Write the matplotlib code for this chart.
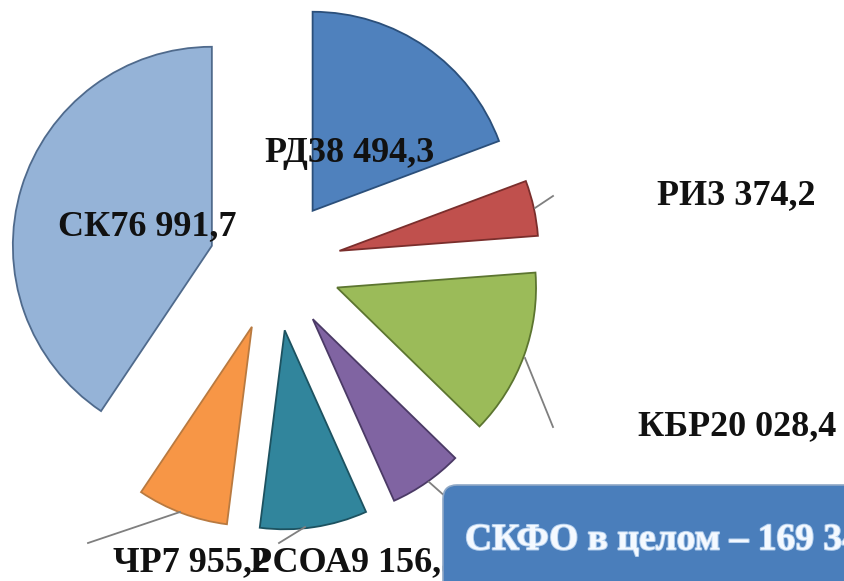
import matplotlib
matplotlib.use("Agg")
import matplotlib.pyplot as plt
from matplotlib.patches import FancyBboxPatch
import matplotlib.patheffects as pe

# ---- data ----
regions = ["РД", "РИ", "КБР", "КЧР", "РСОА", "ЧР", "СК"]
label_values = [38494.3, 3374.2, 20028.4, 13342.0, 9156.5, 7955.2, 76991.7]
# slice shares as drawn in the picture (percent of the circle)
shares = [19.3, 4.5, 13.5, 6.0, 8.7, 7.4, 40.6]
total_text = "СКФО в целом – 169 342,0"
colors = ["#4F81BD", "#C0504D", "#9BBB59", "#8064A2", "#31859C", "#F79646", "#95B3D7"]
edges = ["#2B4F7A", "#7A2E2C", "#5C7530", "#4B3A66", "#1D5260", "#B97A40", "#4F6A8C"]


def fmt(v):
    s = f"{v:,.1f}"
    return s.replace(",", " ").replace(".", ",")


W, H = 844, 581
fig = plt.figure(figsize=(W / 100, H / 100), dpi=100)
ax = fig.add_axes([0, 0, 1, 1])

R = 199
CX, CY = 275, H - 265
EXPL = 66

wedges, _ = ax.pie(shares, colors=colors, startangle=90, counterclock=False,
                   radius=R, center=(CX, CY), explode=[EXPL] * len(shares),
                   wedgeprops=dict(linewidth=1.3))
for w, ec in zip(wedges, edges):
    w.set_edgecolor(ec)

ax.set_xlim(0, W)
ax.set_ylim(0, H)
ax.set_aspect("equal")
ax.axis("off")

serif = ["Liberation Serif", "DejaVu Serif"]
fs = 26
lbl = {r: f"{r}{fmt(v)}" for r, v in zip(regions, label_values)}

# leader lines (pixel coords, y down)
lines = [((535, 208), (553, 196)),
         ((525, 358), (553, 427)),
         ((429, 482), (447, 498)),
         ((180, 512), (88, 543)),
         ((305, 527), (279, 543))]
for (x1, y1), (x2, y2) in lines:
    ax.plot([x1, x2], [H - y1, H - y2], color="#7F7F7F", lw=1.3, zorder=3)

ax.text(350, H - 153, lbl["РД"], fontsize=fs, fontweight="bold", family=serif,
        ha="center", va="center", color="#111111", zorder=5)
ax.text(736, H - 196, lbl["РИ"], fontsize=fs, fontweight="bold", family=serif,
        ha="center", va="center", color="#111111", zorder=5)
ax.text(737, H - 427, lbl["КБР"], fontsize=fs, fontweight="bold", family=serif,
        ha="center", va="center", color="#111111", zorder=5)
ax.text(147, H - 227, lbl["СК"], fontsize=fs, fontweight="bold", family=serif,
        ha="center", va="center", color="#111111", zorder=5)
ax.text(113, H - 563, lbl["ЧР"], fontsize=fs, fontweight="bold", family=serif,
        ha="left", va="center", color="#111111", zorder=5)
ax.text(250, H - 563, lbl["РСОА"], fontsize=fs, fontweight="bold", family=serif,
        ha="left", va="center", color="#111111", zorder=5)

box = FancyBboxPatch((443, -40), 460, H - 485 + 40,
                     boxstyle="round,pad=0,rounding_size=14",
                     facecolor="#4A7EBB", edgecolor="#8FA8C6", lw=1.2,
                     zorder=8, clip_on=False)
ax.add_patch(box)
ax.text(465, H - 540, total_text, fontsize=27, fontweight="bold", family=serif,
        ha="left", va="center", color="#F4F9FF", zorder=9,
        path_effects=[pe.withStroke(linewidth=1.4, foreground="#B5D0EE")])

fig.savefig("out.png", dpi=100)
